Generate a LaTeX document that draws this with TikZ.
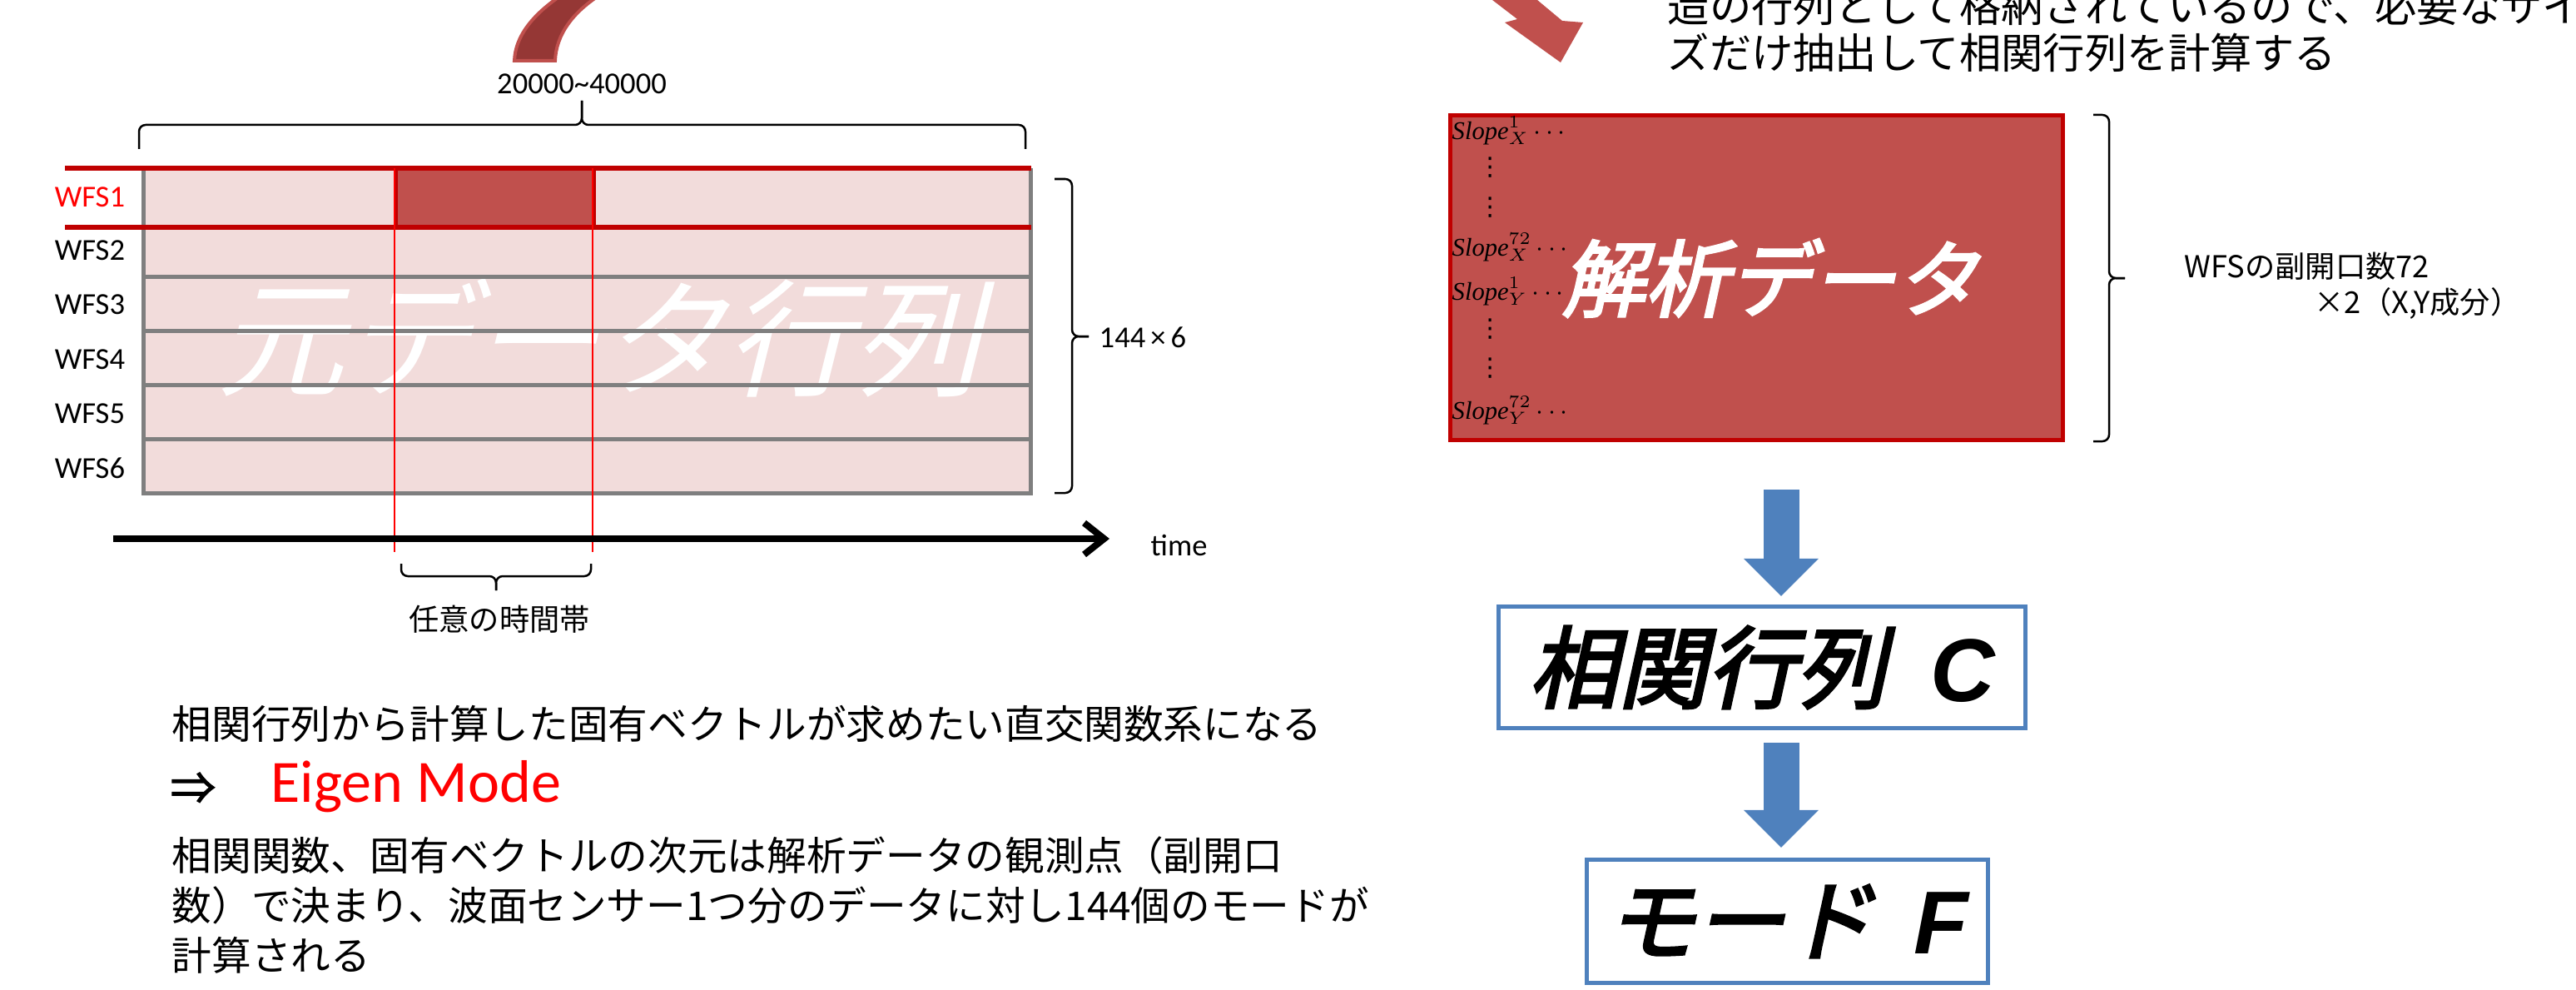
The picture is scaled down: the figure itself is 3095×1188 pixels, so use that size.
\documentclass[tikz,border=0pt]{standalone}
\usepackage{fontspec}
\usetikzlibrary{arrows.meta,calc}
\newfontfamily\jp{Noto Sans CJK JP}
\newfontfamily\jpb{Noto Sans CJK JP}[FakeBold=2]
\newfontfamily\jpit{Noto Sans CJK JP}[FakeSlant=0.25]
\newfontfamily\jpbi{Noto Sans CJK JP}[FakeSlant=0.22,FakeBold=3]
\newfontfamily\lat{Carlito}
\newfontfamily\arbi{Liberation Sans}
\newfontfamily\tnr{Liberation Serif}
\newfontfamily\dvs{DejaVu Sans}
\definecolor{pinkfill}{HTML}{F2DCDB}
\definecolor{mgray}{HTML}{7F7F7F}
\definecolor{dred}{HTML}{C00000}
\definecolor{bred}{HTML}{C0504D}
\definecolor{ared}{HTML}{953735}
\definecolor{mblue}{HTML}{4F81BD}
\tikzset{
  lbl/.style={inner sep=0pt, font=\lat\fontsize{10.4pt}{12pt}\selectfont},
  jlbl/.style={inner sep=0pt, font=\jp\fontsize{10.3pt}{12pt}\selectfont},
  body/.style={inner sep=0pt, anchor=west, font=\jp\fontsize{13.55pt}{16pt}\selectfont},
  slope/.style={inner sep=0pt, anchor=west, font=\fontsize{8.7pt}{10pt}\selectfont},
  vdot/.style={inner sep=0pt, font=\dvs\fontsize{8.6pt}{10pt}\selectfont},
  grayline/.style={draw=mgray, line width=0.05cm},
  redline/.style={draw=dred, line width=0.06cm},
  thinred/.style={draw=red, line width=0.015cm},
  bracestyle/.style={draw=black, line width=0.025cm, rounded corners=0.08cm},
  flowbox/.style={draw=mblue, line width=0.05cm, fill=white, inner sep=0pt,
    font=\jpbi\fontsize{30.5pt}{34pt}\selectfont},
  bluearrow/.style={draw=mblue, line width=0.43cm, -{Triangle[width=0.87cm,length=0.45cm]}},
}
\begin{document}
\begin{tikzpicture}[x=0.01cm,y=-0.01cm]
\useasboundingbox (0,0) rectangle (3095,1188);

% ---------- red curved arrow (top left) ----------
\draw[fill=ared, draw=bred, line width=0.04cm]
  (618,73) .. controls (619,45) and (638,18) .. (678,-8)
  -- (724,-8) .. controls (688,14) and (668,42) .. (667,73) -- cycle;

% ---------- red arrow (top middle) ----------
\fill[bred] (1780,-10) -- (1823,23) -- (1808,27) -- (1875,75) -- (1902,27)
  -- (1877,25) -- (1835,-10) -- cycle;

% ---------- data matrix (left) ----------
\fill[pinkfill] (172,202) rectangle (1238,592);
\node[inner sep=0pt, text=white, font=\jpit\fontsize{43.5pt}{48pt}\selectfont]
  (wm) at (719,406) {元データ行列};
\draw[fill=bred, draw=dred, line width=0.04cm] (476,202) rectangle (714,273);
\foreach \yy in {332,397,462,527} \draw[grayline] (172,\yy) -- (1238,\yy);
\draw[grayline] (172,202) -- (172,592) -- (1238,592) -- (1238,202);
\draw[redline] (78,202) -- (1239,202);
\draw[redline] (78,273) -- (1239,273);
\draw[thinred] (474,202) -- (474,663);
\draw[thinred] (712,202) -- (712,663);

\node[lbl, text=red] (w1) at (108,237) {WFS1};
\node[lbl] (w2) at (108,301) {WFS2};
\node[lbl] (w3) at (108,366) {WFS3};
\node[lbl] (w4) at (108,432) {WFS4};
\node[lbl] (w5) at (108,497) {WFS5};
\node[lbl] (w6) at (108,562) {WFS6};

% top brace
\draw[bracestyle] (167,179) -- (167,150) -- (699,150) -- (699,121);
\draw[bracestyle] (1232,179) -- (1232,150) -- (699,150) -- (699,121);
\node[lbl] (len) at (699,101) {20000\textasciitilde 40000};

% right brace
\draw[bracestyle] (1267,215) -- (1288,215) -- (1288,404) -- (1308,404);
\draw[bracestyle] (1267,592) -- (1288,592) -- (1288,404) -- (1308,404);
\node[lbl, anchor=west] (size) at (1320,405) {144\,×\,6};

% time axis
\coordinate (t0) at (136,647);
\coordinate (t1) at (1333,647);
\draw[line width=0.08cm, -{Straight Barb[length=0.24cm,width=0.38cm]}] (t0) -- (t1);
\node[lbl, anchor=west] (time) at (1382,655) {time};

% bottom brace
\draw[bracestyle] (482,677) -- (482,692) -- (596,692) -- (596,709);
\draw[bracestyle] (710,677) -- (710,692) -- (596,692) -- (596,709);
\node[jlbl] (span) at (600,744) {任意の時間帯};

% ---------- text bottom left ----------
\node[body] (l1) at (206,869) {相関行列から計算した固有ベクトルが求めたい直交関数系になる};
\node[body, font=\jpb\fontsize{15.5pt}{17pt}\selectfont] (l2a) at (204,947) {⇒};
\node[inner sep=0pt, anchor=west, text=red, font=\lat\fontsize{20.5pt}{24pt}\selectfont]
  (l2b) at (325,945) {Eigen Mode};
\node[body] (l3) at (206,1027) {相関関数、固有ベクトルの次元は解析データの観測点（副開口};
\node[body] (l4) at (206,1087) {数）で決まり、波面センサー1つ分のデータに対し144個のモードが};
\node[body] (l5) at (206,1147) {計算される};

% ---------- top right text ----------
\node[body, font=\jp\fontsize{14.3pt}{17pt}\selectfont] (t1a) at (2003,7) {造の行列として格納されているので、必要なサイ};
\node[body, font=\jp\fontsize{14.3pt}{17pt}\selectfont] (t1b) at (2003,63) {ズだけ抽出して相関行列を計算する};

% ---------- analysis data box ----------
\node[draw=dred, fill=bred, line width=0.05cm, minimum width=7.36cm, minimum height=3.9cm, inner sep=0pt]
  (data) at (2110.5,333.5) {};
\node[inner sep=0pt, text=white, font=\jpbi\fontsize{28.5pt}{32pt}\selectfont]
  (datatxt) at (2127,334) {解析データ};
\node[slope] (s1) at (1744,157) {{\tnr\itshape Slope}$^{1}_{X}\cdots$};
\node[vdot] (d1) at (1791,201) {⋮};
\node[vdot] (d2) at (1791,249) {⋮};
\node[slope] (s2) at (1744,297) {{\tnr\itshape Slope}$^{72}_{X}\cdots$};
\node[slope] (s3) at (1744,350) {{\tnr\itshape Slope}$^{1}_{Y}\cdots$};
\node[vdot] (d3) at (1791,395) {⋮};
\node[vdot] (d4) at (1791,442) {⋮};
\node[slope] (s4) at (1744,493) {{\tnr\itshape Slope}$^{72}_{Y}\cdots$};

% brace for data
\draw[bracestyle] (2515,138) -- (2534,138) -- (2534,334) -- (2553,334);
\draw[bracestyle] (2515,530) -- (2534,530) -- (2534,334) -- (2553,334);
\node[jlbl, anchor=west] (sub1) at (2624,320) {WFSの副開口数72};
\node[jlbl, anchor=west] (sub2) at (2780,364) {×2（X,Y成分）};

% ---------- flow ----------
\node[flowbox, minimum width=6.33cm, minimum height=1.46cm] (cbox) at (2117,801.5)
  {相関行列\hspace{0.5em}{\arbi\bfseries\itshape C}};
\node[flowbox, minimum width=4.82cm, minimum height=1.48cm] (fbox) at (2147.5,1106.5)
  {モード\hspace{0.45em}{\arbi\bfseries\itshape F}};
\draw[bluearrow] ($(data.south)+(29.5,57)$) -- ($(cbox.north)+(23,-10)$);
\draw[bluearrow] ($(cbox.south)+(23,15)$) -- ($(fbox.north)+(-7.5,-12)$);
\end{tikzpicture}
\end{document}
